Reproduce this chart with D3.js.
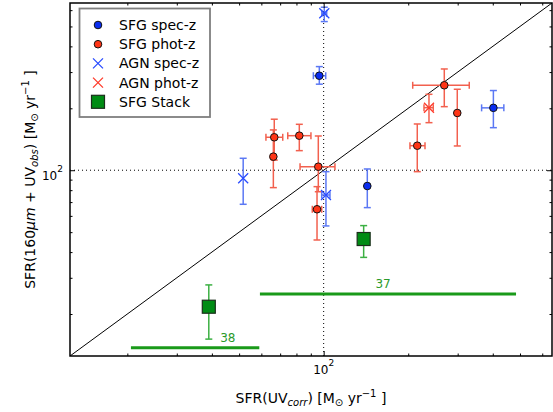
<!DOCTYPE html>
<html>
<head>
<meta charset="utf-8">
<script src="https://cdn.jsdelivr.net/npm/d3@7"></script>
<style>
  body { margin: 0; background: #fff; }
  svg { display: block; font-family: "DejaVu Sans", sans-serif; }
</style>
</head>
<body>
<svg id="chart" width="553" height="412"></svg>
<script>
// values (x = SFR(UVcorr), y = SFR(160um + UVobs))
var sfgSpec = [
  { x: 96.5, y: 288, xlo: 91.9, xhi: 101.7, ylo: 262, yhi: 319 },
  { x: 143, y: 83.8, xlo: 143, xhi: 143, ylo: 65.8, yhi: 101.4 },
  { x: 402, y: 201, xlo: 365, xhi: 438, ylo: 161, yhi: 244 }
];
var sfgPhot = [
  { x: 66.7, y: 144.6, xlo: 62.3, xhi: 71.5, ylo: 112, yhi: 177 },
  { x: 66.2, y: 116.4, xlo: 66.2, xhi: 66.2, ylo: 82.3, yhi: 157 },
  { x: 81.9, y: 147.2, xlo: 74.5, xhi: 90.1, ylo: 124.5, yhi: 167.2 },
  { x: 95.7, y: 104, xlo: 82.4, xhi: 109.7, ylo: 78.6, yhi: 146.7 },
  { x: 94.7, y: 64.6, xlo: 91.1, xhi: 98.4, ylo: 45.8, yhi: 83.2 },
  { x: 215.4, y: 131.6, xlo: 202.9, xhi: 229.5, ylo: 98.4, yhi: 167.8 },
  { x: 268.8, y: 258.8, xlo: 207.5, xhi: 329.9, ylo: 203.7, yhi: 310.6 },
  { x: 299, y: 189.8, xlo: 299, xhi: 299, ylo: 131.2, yhi: 247.5 }
];
var agnSpec = [
  { x: 100.5, y: 579, xlo: 98.5, xhi: 102.5, ylo: 528, yhi: 620 },
  { x: 51.7, y: 91.4, xlo: 51.7, xhi: 51.7, ylo: 68.3, yhi: 114.3 },
  { x: 101.9, y: 75.8, xlo: 98.4, xhi: 105.3, ylo: 53.6, yhi: 98.4 }
];
var agnPhot = [
  { x: 237.1, y: 201.4, xlo: 227.6, xhi: 245.6, ylo: 170.3, yhi: 233.9 }
];
var stack = [
  { x: 39, y: 21.7, xlo: 39, xhi: 39, ylo: 15.1, yhi: 27.7 },
  { x: 138.8, y: 46.3, xlo: 138.8, xhi: 138.8, ylo: 37.7, yhi: 53.8 }
];
// stacking bins: x range, height of the bar, number of sources
var bins = [
  { lo: 20.6, hi: 59, y: 13.7, n: "38", lx: 45.6 },
  { lo: 59.3, hi: 484, y: 25, n: "37", lx: 162.7 }
];
var minorTicks = [20, 30, 40, 50, 60, 70, 80, 90, 200, 300, 400, 500, 600];
var majorTicks = [100];
var legendLabels = ["SFG spec-z", "SFG phot-z", "AGN spec-z", "AGN phot-z", "SFG Stack"];

var svg = d3.select("#chart");
var pl = 70, pr = 552, pt = 3, pb = 356;

var x = d3.scaleLog().domain([12.5, 650]).range([pl, pr]);
var y = d3.scaleLog().domain([12.5, 650]).range([pb, pt]);

var plot = svg.append("g");
plot.append("clipPath").attr("id", "clip").append("rect")
  .attr("x", pl).attr("y", pt).attr("width", pr - pl).attr("height", pb - pt);
var g = plot.append("g").attr("clip-path", "url(#clip)");

// dotted reference lines at 100
g.append("line").attr("x1", x(100)).attr("x2", x(100)).attr("y1", pt).attr("y2", pb)
  .attr("stroke", "#000").attr("stroke-width", 1).attr("stroke-dasharray", "1,3");
g.append("line").attr("x1", pl).attr("x2", pr).attr("y1", y(100)).attr("y2", y(100))
  .attr("stroke", "#000").attr("stroke-width", 1).attr("stroke-dasharray", "1,3");

// one-to-one line
g.append("line").attr("x1", x(12.5)).attr("y1", y(12.5)).attr("x2", x(650)).attr("y2", y(650))
  .attr("stroke", "#000").attr("stroke-width", 1);

// bins
bins.forEach(function(b) {
  g.append("line").attr("x1", x(b.lo)).attr("x2", x(b.hi)).attr("y1", y(b.y)).attr("y2", y(b.y))
    .attr("stroke", "#1a9a1a").attr("stroke-width", 3);
  g.append("text").attr("x", x(b.lx)).attr("y", y(b.y) - 6).attr("text-anchor", "middle")
    .attr("font-size", 12).attr("fill", "#2a9a2a").text(b.n);
});

function errorbars(data, color) {
  var cap = 3.5;
  data.forEach(function(d) {
    var e = g.append("g").attr("stroke", color).attr("stroke-width", 1.5);
    if (d.ylo != d.yhi) {
      e.append("line").attr("x1", x(d.x)).attr("x2", x(d.x)).attr("y1", y(d.ylo)).attr("y2", y(d.yhi));
      e.append("line").attr("x1", x(d.x) - cap).attr("x2", x(d.x) + cap).attr("y1", y(d.ylo)).attr("y2", y(d.ylo));
      e.append("line").attr("x1", x(d.x) - cap).attr("x2", x(d.x) + cap).attr("y1", y(d.yhi)).attr("y2", y(d.yhi));
    }
    if (d.xlo != d.xhi) {
      e.append("line").attr("x1", x(d.xlo)).attr("x2", x(d.xhi)).attr("y1", y(d.y)).attr("y2", y(d.y));
      e.append("line").attr("x1", x(d.xlo)).attr("x2", x(d.xlo)).attr("y1", y(d.y) - cap).attr("y2", y(d.y) + cap);
      e.append("line").attr("x1", x(d.xhi)).attr("x2", x(d.xhi)).attr("y1", y(d.y) - cap).attr("y2", y(d.y) + cap);
    }
  });
}

function circle(sel, cx, cy, fill) {
  sel.append("circle").attr("cx", cx).attr("cy", cy).attr("r", 3.8)
    .attr("fill", fill).attr("stroke", "#111").attr("stroke-width", 1);
}
function cross(sel, cx, cy, color) {
  var s = 5;
  sel.append("path").attr("d", "M" + (cx - s) + "," + (cy - s) + "L" + (cx + s) + "," + (cy + s) +
    "M" + (cx - s) + "," + (cy + s) + "L" + (cx + s) + "," + (cy - s))
    .attr("stroke", color).attr("stroke-width", 1.3).attr("fill", "none");
}
function square(sel, cx, cy) {
  sel.append("rect").attr("x", cx - 6.5).attr("y", cy - 6.5).attr("width", 13).attr("height", 13)
    .attr("fill", "#008c14").attr("stroke", "#1b2e1b").attr("stroke-width", 1.2);
}

errorbars(sfgPhot, "#f2604e");
errorbars(agnPhot, "#f2604e");
errorbars(sfgSpec, "#5b78f4");
errorbars(agnSpec, "#5b78f4");
errorbars(stack, "#3cb043");

sfgPhot.forEach(function(d) { circle(g, x(d.x), y(d.y), "#ff3516"); });
agnPhot.forEach(function(d) { cross(g, x(d.x), y(d.y), "#ff3a2a"); });
sfgSpec.forEach(function(d) { circle(g, x(d.x), y(d.y), "#0a2df0"); });
agnSpec.forEach(function(d) { cross(g, x(d.x), y(d.y), "#2a4cff"); });
stack.forEach(function(d) { square(g, x(d.x), y(d.y)); });

// ticks on all four sides, pointing inwards
function tickAxis(axisFn, scale, vals, size) {
  return axisFn(scale).tickValues(vals).tickSize(size).tickFormat("");
}
[[minorTicks, 2.5], [majorTicks, 5]].forEach(function(t) {
  svg.append("g").attr("transform", "translate(0," + pb + ")").call(tickAxis(d3.axisBottom, x, t[0], -t[1]));
  svg.append("g").attr("transform", "translate(0," + pt + ")").call(tickAxis(d3.axisTop, x, t[0], -t[1]));
  svg.append("g").attr("transform", "translate(" + pl + ",0)").call(tickAxis(d3.axisLeft, y, t[0], -t[1]));
  svg.append("g").attr("transform", "translate(" + pr + ",0)").call(tickAxis(d3.axisRight, y, t[0], -t[1]));
});
svg.selectAll(".domain").remove();
svg.selectAll(".tick line").attr("stroke", "#000").attr("stroke-width", 1);

// frame
svg.append("rect").attr("x", pl).attr("y", pt).attr("width", pr - pl).attr("height", pb - pt)
  .attr("fill", "none").attr("stroke", "#000").attr("stroke-width", 1.5);

// tick labels 10^2
var xl = svg.append("text").attr("x", x(100)).attr("y", 374).attr("text-anchor", "middle").attr("font-size", 12);
xl.append("tspan").text("10");
xl.append("tspan").attr("dy", -8).attr("font-size", 9).text("2");
var yl = svg.append("text").attr("x", 63).attr("y", y(100) + 10).attr("text-anchor", "end").attr("font-size", 12);
yl.append("tspan").text("10");
yl.append("tspan").attr("dy", -8).attr("font-size", 9).text("2");

// axis labels
var xt = svg.append("text").attr("x", (pl + pr) / 2).attr("y", 403).attr("text-anchor", "middle").attr("font-size", 14);
xt.append("tspan").text("SFR(UV");
xt.append("tspan").attr("dy", 3).attr("font-size", 10).attr("font-style", "italic").text("corr");
xt.append("tspan").attr("dy", -3).text(") [M");
xt.append("tspan").attr("dy", 3).attr("font-size", 10).text("\u2299");
xt.append("tspan").attr("dy", -3).text(" yr");
xt.append("tspan").attr("dy", -6).attr("font-size", 10).text("\u22121");
xt.append("tspan").attr("dy", 6).text(" ]");

var yt = svg.append("text").attr("transform", "translate(35," + ((pt + pb) / 2) + ") rotate(-90)")
  .attr("text-anchor", "middle").attr("font-size", 14);
yt.append("tspan").text("SFR(160");
yt.append("tspan").attr("font-style", "italic").text("\u03bcm");
yt.append("tspan").text(" + UV");
yt.append("tspan").attr("dy", 3).attr("font-size", 10).attr("font-style", "italic").text("obs");
yt.append("tspan").attr("dy", -3).text(") [M");
yt.append("tspan").attr("dy", 3).attr("font-size", 10).text("\u2299");
yt.append("tspan").attr("dy", -3).text(" yr");
yt.append("tspan").attr("dy", -6).attr("font-size", 10).text("\u22121");
yt.append("tspan").attr("dy", 6).text(" ]");

// legend
var lg = svg.append("g");
lg.append("rect").attr("x", 79.5).attr("y", 8.5).attr("width", 130.5).attr("height", 108.5)
  .attr("fill", "#fff").attr("stroke", "#7f7f7f").attr("stroke-width", 1.8);
legendLabels.forEach(function(lab, i) {
  var cy = 25 + i * 19.2, mx = 98;
  if (i == 0) circle(lg, mx, cy, "#0a2df0");
  if (i == 1) circle(lg, mx, cy, "#ff3516");
  if (i == 2) cross(lg, mx, cy, "#2a4cff");
  if (i == 3) cross(lg, mx, cy, "#ff3a2a");
  if (i == 4) square(lg, mx, cy);
  lg.append("text").attr("x", 119).attr("y", cy + 5).attr("font-size", 14).text(lab);
});
</script>
</body>
</html>
